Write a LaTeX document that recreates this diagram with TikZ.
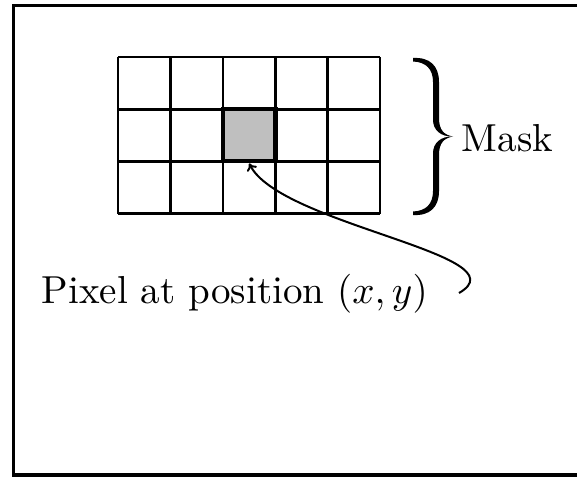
\documentclass[tikz,border=0pt]{standalone}
\usetikzlibrary{arrows.meta}
\begin{document}
\begin{tikzpicture}[x=1pt,y=-1pt,
  frame/.style={line width=3.2pt},
  gridline/.style={line width=2.6pt},
  pixelbox/.style={draw, line width=4.5pt, fill=black!25, inner sep=0pt,
     minimum width=52.4pt, minimum height=52.2pt},
  bigtext/.style={scale=3.9, inner sep=0pt, anchor=base west},
  bracefill/.style={fill=black},
  pointer/.style={line width=2pt, -{To[length=7pt,width=11pt]}}]
\useasboundingbox (0,0) rectangle (577,477);
\begin{scope}
\clip (0,0) rectangle (577,477);
\draw[frame] (13.5,5.5) rectangle (600,475);
\end{scope}
% grid
\foreach \i in {0,...,5} {
  \draw[gridline] ({118+52.4*\i},57) -- ({118+52.4*\i},213.6);
}
\foreach \j in {0,...,3} {
  \draw[gridline] (118,{57+52.2*\j}) -- (380,{57+52.2*\j});
}
\node[pixelbox] (pixel) at (249.2,135.1) {};
% brace (upper and lower halves)
\fill[bracefill] (413,58) .. controls (430,57) and (439,66) .. (439,82)
  -- (439,118) .. controls (439,130) and (444,135) .. (453,136.5)
  .. controls (441,137) and (433,130) .. (433,120)
  -- (433,82) .. controls (433,69) and (426,62) .. (413,61.5) -- cycle;
\fill[bracefill] (413,215) .. controls (430,216) and (439,207) .. (439,191)
  -- (439,155) .. controls (439,143) and (444,138) .. (453,136.5)
  .. controls (441,136) and (433,143) .. (433,153)
  -- (433,191) .. controls (433,204) and (426,211) .. (413,211.5) -- cycle;
\node[bigtext] (mask) at (461,151) {Mask};
\node[bigtext] (label) at (41,303) {Pixel at position $(x,y)$};
\coordinate (tail) at (459,293);
\draw[pointer] (tail) .. controls (525,255) and (280,225) .. (pixel.south);
\end{tikzpicture}
\end{document}
